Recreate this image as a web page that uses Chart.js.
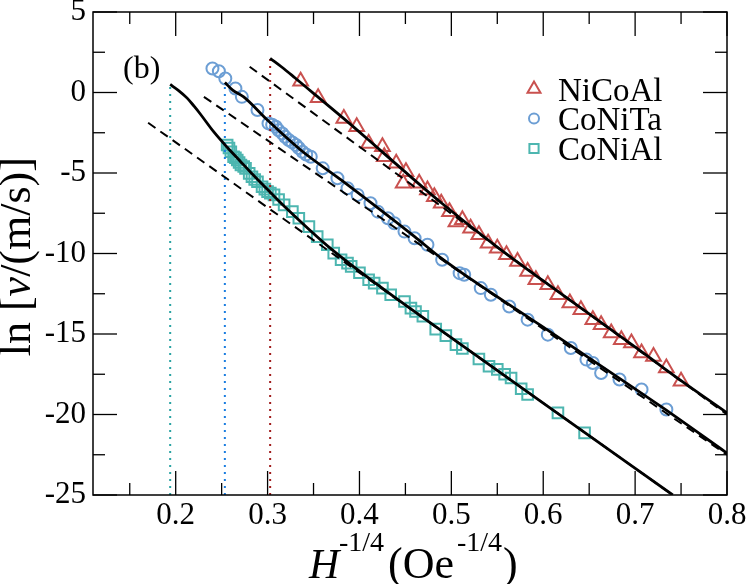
<!DOCTYPE html>
<html>
<head>
<meta charset="utf-8">
<title>ln v vs H^-1/4</title>
<style>
  html, body { margin: 0; padding: 0; background: #fff; }
  canvas { display: block; }
</style>
</head>
<body>
<canvas id="chart" width="747" height="584"></canvas>
<script src="https://cdn.jsdelivr.net/npm/chart.js@4/dist/chart.umd.min.js"></script>
<script>
// ---- data ----
var seriesNames = ["NiCoAl", "CoNiTa", "CoNiAl"];

// NiCoAl (triangles)
var nicoalX = [0.336, 0.355, 0.383, 0.397, 0.41, 0.425, 0.427, 0.44, 0.4476, 0.4506, 0.465, 0.474, 0.4815, 0.489,
               0.498, 0.505, 0.512, 0.521, 0.53, 0.54, 0.55, 0.56, 0.572, 0.583, 0.592, 0.605, 0.616, 0.629,
               0.641, 0.654, 0.663, 0.674, 0.685, 0.696, 0.707, 0.72, 0.734, 0.75];
var nicoalY = [0.70, -0.33, -1.61, -2.13, -3.16, -3.37, -3.99, -4.40, -5.64, -4.92, -5.64, -6.05, -6.47, -6.88,
               -7.40, -8.05, -7.91, -8.43, -8.84, -9.36, -9.67, -10.08, -10.5, -11.12, -11.63, -11.94, -12.56, -13.08,
               -13.49, -14.11, -14.42, -14.94, -15.35, -15.56, -16.18, -16.39, -17.11, -17.94];

// CoNiTa (circles)
var conitaX = [0.24, 0.247, 0.254, 0.265, 0.272, 0.289, 0.301, 0.305, 0.309, 0.312, 0.316, 0.319, 0.323, 0.327,
               0.331, 0.334, 0.338, 0.342, 0.347, 0.36, 0.376, 0.387, 0.398, 0.412, 0.42, 0.431, 0.438, 0.449,
               0.46, 0.474, 0.49, 0.509, 0.514, 0.532, 0.543, 0.563, 0.583, 0.605, 0.63, 0.647, 0.654, 0.663,
               0.683, 0.707, 0.734];
var conitaY = [1.49, 1.32, 0.87, 0.25, -0.27, -1.09, -1.92, -2.0, -2.13, -2.35, -2.54, -2.75, -2.95, -3.1,
               -3.26, -3.45, -3.68, -3.85, -3.99, -4.71, -5.33, -5.95, -6.36, -6.88, -7.40, -7.81, -8.12, -8.64,
               -9.05, -9.46, -10.39, -11.22, -11.32, -12.15, -12.56, -13.29, -14.11, -15.04, -15.87, -16.59, -16.80, -17.42,
               -17.83, -18.45, -19.69];

// CoNiAl (squares)
var conialX = [0.256, 0.258, 0.26, 0.263, 0.265, 0.267, 0.269, 0.271, 0.274, 0.276, 0.28, 0.283, 0.286, 0.289,
               0.294, 0.297, 0.3, 0.303, 0.307, 0.312, 0.318, 0.327, 0.334, 0.345, 0.354, 0.365, 0.372, 0.38,
               0.387, 0.391, 0.4, 0.41, 0.416, 0.425, 0.434, 0.449, 0.456, 0.461, 0.469, 0.483, 0.494, 0.505,
               0.512, 0.53, 0.541, 0.55, 0.558, 0.565, 0.576, 0.583, 0.616, 0.645];
var conialY = [-3.26, -3.45, -3.68, -3.99, -4.05, -4.19, -4.35, -4.5, -4.6, -4.71, -5.02, -5.23, -5.4, -5.54,
               -5.85, -6.0, -6.16, -6.25, -6.36, -6.65, -6.98, -7.40, -7.81, -8.33, -8.95, -9.46, -9.98, -10.39,
               -10.6, -10.8, -11.2, -11.63, -11.84, -12.15, -12.56, -12.98, -13.39, -13.6, -13.9, -14.7, -15.1, -15.66,
               -15.9, -16.55, -17.0, -17.2, -17.5, -17.73, -18.4, -18.76, -19.9, -21.14];

// fitted curves (solid)
var fitNiCoAlX = [0.3028, 0.315, 0.33, 0.35, 0.383, 0.41, 0.445, 0.489, 0.55, 0.6, 0.65, 0.707, 0.75, 0.8];
var fitNiCoAlY = [2.12, 1.6, 0.9, -0.05, -1.62, -2.95, -4.7, -6.85, -9.6, -11.7, -13.75, -16.1, -17.9, -19.9];
var fitCoNiTaX = [0.2535, 0.262, 0.274, 0.2998, 0.336, 0.38, 0.46, 0.489, 0.598, 0.728, 0.8];
var fitCoNiTaY = [0.62, 0.15, -0.27, -1.71, -3.57, -5.43, -8.95, -10.29, -14.5, -19.5, -22.4];
var fitCoNiAlX = [0.194, 0.2025, 0.2125, 0.22, 0.227, 0.2415, 0.256, 0.27, 0.2815, 0.303, 0.3216, 0.3688, 0.42, 0.509, 0.6, 0.741];
var fitCoNiAlY = [0.5, 0.15, -0.35, -0.85, -1.35, -2.45, -3.4, -4.25, -4.95, -6.2, -7.25, -9.7, -11.95, -15.6, -19.3, -25];

// creep-law asymptotes (dashed), end points
var creepNiCoAlX = [0.2805, 0.8];
var creepNiCoAlY = [1.6, -20.0];
var creepCoNiTaX = [0.2307, 0.8];
var creepCoNiTaY = [-0.27, -22.5];
var creepCoNiAlX = [0.17, 0.741];
var creepCoNiAlY = [-1.88, -25];

// depinning field markers (dotted verticals)
var depinX = [0.3028, 0.2535, 0.194];
var depinTopY = [2.12, 0.62, 0.5];

// axes
var xTicks = [0.2, 0.3, 0.4, 0.5, 0.6, 0.7, 0.8];
var xTickLabels = ["0.2", "0.3", "0.4", "0.5", "0.6", "0.7", "0.8"];
var xMinor = [0.15, 0.25, 0.35, 0.45, 0.55, 0.65, 0.75];
var yTicks = [5, 0, -5, -10, -15, -20, -25];
var yTickLabels = ["5", "0", "-5", "-10", "-15", "-20", "-25"];
var yMinor = [2.5, -2.5, -7.5, -12.5, -17.5, -22.5];

var colors = ["#c9514f", "#6c9ed4", "#4db6b0"];
var dotColors = ["#a01c1c", "#1a7de0", "#2aa3a3"];
var styles = ["triangle", "circle", "rect"];
var radii = [8.5, 6, 7.5];
var SERIF = '"Liberation Serif", "DejaVu Serif", serif';

function pts(xs, ys) {
    var out = [];
    for (var i = 0; i < xs.length; i++) out.push({x: xs[i], y: ys[i]});
    return out;
}

function markers(i, xs, ys) {
    return {
        label: seriesNames[i], data: pts(xs, ys), showLine: false, order: 3,
        pointStyle: styles[i], pointRadius: radii[i], pointBorderWidth: 2,
        pointBorderColor: colors[i], pointBackgroundColor: "rgba(0,0,0,0)"
    };
}
function solid(xs, ys) {
    return {data: pts(xs, ys), showLine: true, borderColor: "#000", borderWidth: 2.8,
            pointRadius: 0, cubicInterpolationMode: "monotone", order: 0};
}
function dashed(xs, ys) {
    return {data: pts(xs, ys), showLine: true, borderColor: "#000", borderWidth: 2,
            borderDash: [9, 6], pointRadius: 0, tension: 0, order: 1};
}
function dotted(i) {
    return {data: [{x: depinX[i], y: -25}, {x: depinX[i], y: depinTopY[i]}], showLine: true,
            borderColor: dotColors[i], borderWidth: 2, borderDash: [2, 5], pointRadius: 0, tension: 0, order: 2};
}

var datasets = [
    solid(fitNiCoAlX, fitNiCoAlY), solid(fitCoNiTaX, fitCoNiTaY), solid(fitCoNiAlX, fitCoNiAlY),
    dashed(creepNiCoAlX, creepNiCoAlY), dashed(creepCoNiTaX, creepCoNiTaY), dashed(creepCoNiAlX, creepCoNiAlY),
    dotted(0), dotted(1), dotted(2),
    markers(0, nicoalX, nicoalY), markers(1, conitaX, conitaY), markers(2, conialX, conialY)
];

// frame, inward ticks, titles, legend
var decor = {
    id: "decor",
    afterDraw: function (chart) {
        var ctx = chart.ctx, a = chart.chartArea, xs = chart.scales.x, ys = chart.scales.y;
        ctx.save();
        ctx.strokeStyle = "#000";
        ctx.lineWidth = 1.5;
        ctx.strokeRect(a.left, a.top, a.right - a.left, a.bottom - a.top);

        ctx.lineWidth = 1.3;
        function seg(x1, y1, x2, y2) { ctx.beginPath(); ctx.moveTo(x1, y1); ctx.lineTo(x2, y2); ctx.stroke(); }
        function xt(vals, len) {
            vals.forEach(function (v) {
                var p = xs.getPixelForValue(v);
                seg(p, a.bottom, p, a.bottom - len);
                seg(p, a.top, p, a.top + len);
            });
        }
        function yt(vals, len) {
            vals.forEach(function (v) {
                var p = ys.getPixelForValue(v);
                seg(a.left, p, a.left + len, p);
                seg(a.right, p, a.right - len, p);
            });
        }
        xt(xTicks, 24); xt(xMinor, 12);
        yt(yTicks, 24); yt(yMinor, 12);

        ctx.fillStyle = "#000";
        ctx.textAlign = "left";
        ctx.textBaseline = "alphabetic";

        // panel tag
        ctx.font = "32px " + SERIF;
        ctx.fillText("(b)", 123, 78);

        // x title: H^-1/4 (Oe^-1/4)
        ctx.font = "italic 42px " + SERIF;
        ctx.fillText("H", 309, 578);
        ctx.font = "28px " + SERIF;
        ctx.fillText("-1/4", 339, 551);
        ctx.font = "44px " + SERIF;
        ctx.fillText("(Oe", 388, 578);
        ctx.font = "28px " + SERIF;
        ctx.fillText("-1/4", 457, 551);
        ctx.font = "44px " + SERIF;
        ctx.fillText(")", 503, 578);

        // y title: ln [v/(m/s)]
        ctx.save();
        ctx.translate(30, 256.7);
        ctx.rotate(-Math.PI / 2);
        var parts = [["ln [", ""], ["v", "italic "], ["/(m/s)]", ""]];
        var total = 0;
        parts.forEach(function (p) { ctx.font = p[1] + "44px " + SERIF; total += ctx.measureText(p[0]).width; });
        var cx = -total / 2;
        parts.forEach(function (p) {
            ctx.font = p[1] + "44px " + SERIF;
            ctx.fillText(p[0], cx, 0);
            cx += ctx.measureText(p[0]).width;
        });
        ctx.restore();

        // legend
        var rowY = [89, 118.5, 148.5];
        for (var i = 0; i < 3; i++) {
            ctx.strokeStyle = colors[i];
            ctx.fillStyle = "rgba(0,0,0,0)";
            ctx.lineWidth = 2;
            Chart.helpers.drawPoint(ctx, {pointStyle: styles[i], radius: radii[i] - 1, borderWidth: 2, rotation: 0}, 534, rowY[i]);
            ctx.fillStyle = "#000";
            ctx.font = "33px " + SERIF;
            ctx.fillText(seriesNames[i], 558, rowY[i] + 11.7);
        }
        ctx.restore();
    }
};

Chart.defaults.font.family = SERIF;

new Chart(document.getElementById("chart").getContext("2d"), {
    type: "scatter",
    data: {datasets: datasets},
    options: {
        responsive: false,
        animation: false,
        layout: {padding: {top: 12, right: 20, left: 0, bottom: 0}},
        plugins: {legend: {display: false}, tooltip: {enabled: false}},
        scales: {
            x: {
                type: "linear", min: 0.11, max: 0.8,
                afterBuildTicks: function (s) { s.ticks = xTicks.map(function (v) { return {value: v}; }); },
                afterFit: function (s) { s.height = 89; s.paddingLeft = 0; s.paddingRight = 0; },
                ticks: {
                    autoSkip: false, maxRotation: 0, padding: 2, color: "#000",
                    font: {family: SERIF, size: 31, lineHeight: 1.2},
                    callback: function (v) { return xTickLabels[xTicks.indexOf(v)]; }
                },
                grid: {display: false, drawTicks: false},
                border: {display: false}
            },
            y: {
                type: "linear", min: -25, max: 5,
                afterBuildTicks: function (s) { s.ticks = yTicks.map(function (v) { return {value: v}; }); },
                afterFit: function (s) { s.width = 93; s.paddingTop = 0; s.paddingBottom = 0; },
                ticks: {
                    autoSkip: false, padding: 7, color: "#000",
                    font: {family: SERIF, size: 31, lineHeight: 0.3},
                    callback: function (v) { return yTickLabels[yTicks.indexOf(v)]; }
                },
                grid: {display: false, drawTicks: false},
                border: {display: false}
            }
        }
    },
    plugins: [decor]
});
</script>
</body>
</html>
